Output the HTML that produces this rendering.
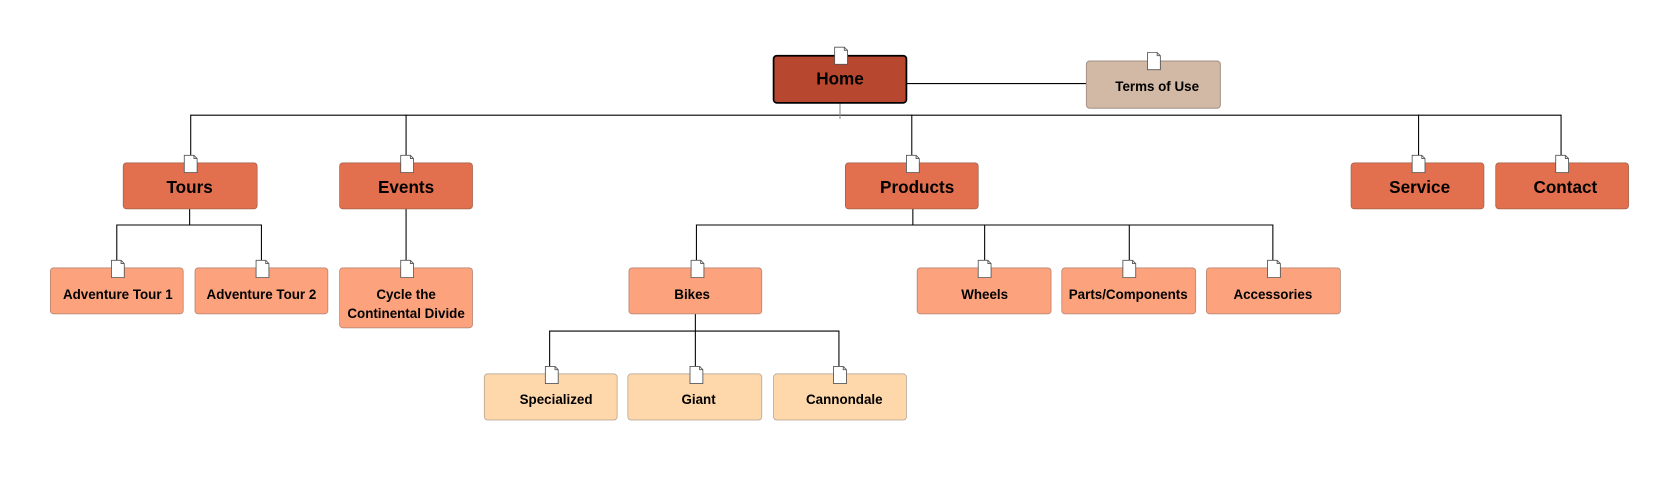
<!DOCTYPE html>
<html><head><meta charset="utf-8"><style>
html,body{margin:0;padding:0;background:#fff;width:1680px;height:495px;overflow:hidden}
svg{display:block}
text{font-family:"Liberation Sans",Arial,sans-serif;font-weight:bold;fill:#000;text-anchor:middle}
</style></head><body>
<svg width="1680" height="495" viewBox="0 0 1568 462" preserveAspectRatio="none" xmlns="http://www.w3.org/2000/svg">
<defs>
<g id="doc"><path d="M-6,-8 H3 L6,-5 V8 H-6 Z" fill="#fff" stroke="#555" stroke-width="0.8"/><path d="M3,-8 V-5 H6" fill="none" stroke="#555" stroke-width="0.8"/></g>
</defs>
<g stroke="#000" stroke-width="1" fill="none">
<line x1="846" y1="78" x2="1014" y2="78"/>
<line x1="178" y1="107.5" x2="1457" y2="107.5"/>
<line x1="178" y1="107" x2="178" y2="152"/>
<line x1="379" y1="107" x2="379" y2="152"/>
<line x1="851" y1="107" x2="851" y2="152"/>
<line x1="1324" y1="107" x2="1324" y2="152"/>
<line x1="1457" y1="107" x2="1457" y2="152"/>
<path d="M177,195 V210 M109,250 V210 H244 V250"/>
<line x1="379" y1="195" x2="379" y2="250"/>
<path d="M852,195 V210 M650,250 V210 H1188 V250 M919,210 V250 M1054,210 V250"/>
<path d="M649,293 V349 M513,349 V309 H783 V349"/>
</g>
<line x1="784" y1="96" x2="784" y2="111" stroke="#888" stroke-width="1"/>
<!-- boxes -->
<rect x="722" y="52" width="124" height="44" rx="3" fill="#b7472f" stroke="#000" stroke-width="1.6"/>
<text x="784" y="79" font-size="16">Home</text>
<rect x="1014" y="57" width="125" height="44" rx="3" fill="#d1b9a5" stroke="#a8958a"/>
<text x="1080" y="85" font-size="12.5">Terms of Use</text>
<g fill="#e2704f" stroke="#a0604a" stroke-width="0.7">
<rect x="115" y="152" width="125" height="43" rx="3"/>
<rect x="317" y="152" width="124" height="43" rx="3"/>
<rect x="789" y="152" width="124" height="43" rx="3"/>
<rect x="1261" y="152" width="124" height="43" rx="3"/>
<rect x="1396" y="152" width="124" height="43" rx="3"/>
</g>
<g font-size="16">
<text x="177" y="180">Tours</text>
<text x="379" y="180">Events</text>
<text x="856" y="180">Products</text>
<text x="1325" y="180">Service</text>
<text x="1461" y="180">Contact</text>
</g>
<g fill="#fca27c" stroke="#b08070" stroke-width="0.7">
<rect x="47" y="250" width="124" height="43" rx="3"/>
<rect x="182" y="250" width="124" height="43" rx="3"/>
<rect x="317" y="250" width="124" height="56" rx="3"/>
<rect x="587" y="250" width="124" height="43" rx="3"/>
<rect x="856" y="250" width="125" height="43" rx="3"/>
<rect x="991" y="250" width="125" height="43" rx="3"/>
<rect x="1126" y="250" width="125" height="43" rx="3"/>
</g>
<g font-size="12.5">
<text x="110" y="279">Adventure Tour 1</text>
<text x="244" y="279">Adventure Tour 2</text>
<text x="379" y="279">Cycle the</text>
<text x="379" y="297">Continental Divide</text>
<text x="646" y="279">Bikes</text>
<text x="919" y="279">Wheels</text>
<text x="1053" y="279">Parts/Components</text>
<text x="1188" y="279">Accessories</text>
</g>
<g fill="#fed7aa" stroke="#b0a090" stroke-width="0.7">
<rect x="452" y="349" width="124" height="43" rx="3"/>
<rect x="586" y="349" width="125" height="43" rx="3"/>
<rect x="722" y="349" width="124" height="43" rx="3"/>
</g>
<g font-size="12.5">
<text x="519" y="377">Specialized</text>
<text x="652" y="377">Giant</text>
<text x="788" y="377">Cannondale</text>
</g>
<!-- doc icons -->
<use href="#doc" x="785" y="52"/>
<use href="#doc" x="1077" y="57"/>
<use href="#doc" x="178" y="153"/>
<use href="#doc" x="380" y="153"/>
<use href="#doc" x="852" y="153"/>
<use href="#doc" x="1324" y="153"/>
<use href="#doc" x="1458" y="153"/>
<use href="#doc" x="110" y="251"/>
<use href="#doc" x="245" y="251"/>
<use href="#doc" x="380" y="251"/>
<use href="#doc" x="651" y="251"/>
<use href="#doc" x="919" y="251"/>
<use href="#doc" x="1054" y="251"/>
<use href="#doc" x="1189" y="251"/>
<use href="#doc" x="515" y="350"/>
<use href="#doc" x="650" y="350"/>
<use href="#doc" x="784" y="350"/>
</svg>
</body></html>
